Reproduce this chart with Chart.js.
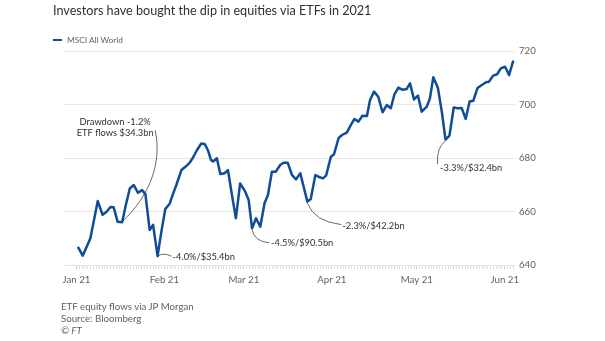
<!DOCTYPE html>
<html>
<head>
<meta charset="utf-8">
<script src="https://cdn.jsdelivr.net/npm/chart.js@4.4.1/dist/chart.umd.min.js"></script>
<style>
  body { margin: 0; background: #fff; font-family: Lato, sans-serif; }
  #wrap { position: relative; width: 605px; height: 341px; overflow: hidden; }
  #chart { position: absolute; left: 0; top: 0; }
  .title { position: absolute; left: 53px; top: 5.3px; font-size: 12.6px; line-height: 12.6px; color: #33302e; white-space: nowrap; }
  .legend { position: absolute; left: 53px; top: 36px; font-size: 8.3px; line-height: 8.5px; color: #66605c; white-space: nowrap; }
  .legend i { display: inline-block; width: 9px; height: 2.5px; background: #0f4d98; vertical-align: 2px; margin-right: 5px; }
  .source { position: absolute; left: 61px; top: 300px; font-size: 9.7px; line-height: 12.2px; color: #66605c; }
  .source em { font-style: italic; }
</style>
</head>
<body>
<div id="wrap">
  <canvas id="chart" width="605" height="341"></canvas>
  <div class="title">Investors have bought the dip in equities via ETFs in 2021</div>
  <div class="legend"><i></i>MSCI All World</div>
  <div class="source">ETF equity flows via JP Morgan<br>Source: Bloomberg<br><em>© FT</em></div>
</div>
<script>
// MSCI All World index, days counted from 1 Jan 2021
const days = [
  0.5, 2.2, 4.9, 7.5, 9.2, 10.6, 12.0, 13.1, 14.5, 16.1,
  17.4, 18.8, 20.2, 21.7, 23.1, 24.3, 25.8, 27.0, 28.6, 29.9,
  31.3, 32.9, 34.0, 35.2, 37.0, 38.4, 39.8, 41.0, 42.5, 44.0,
  45.2, 46.3, 47.4, 48.2, 49.5, 50.7, 52.2, 53.4, 54.8, 56.2,
  57.7, 59.5, 60.7, 61.9, 63.3, 64.8, 66.3, 67.5, 68.9, 70.3,
  71.8, 73.0, 74.5, 76.0, 77.4, 78.9, 80.1, 81.4, 82.6, 84.2,
  85.3, 86.9, 88.0, 89.7, 90.8, 92.4, 93.6, 95.3, 96.7, 98.0,
  99.4, 100.8, 102.4, 103.5, 104.9, 106.4, 107.9, 109.4, 110.8, 112.1,
  113.5, 115.0, 116.4, 117.6, 119.0, 120.4, 121.7, 123.5, 124.6, 125.8,
  127.4, 128.8, 130.1, 131.5, 133.0, 134.4, 135.8, 137.2, 138.6, 139.9,
  141.4, 142.9, 144.4, 145.4, 146.9, 148.3, 149.6, 151.1, 152.5, 154.0,
];
const msci = [
  646.8, 643.5, 650.0, 663.9, 658.8, 659.9, 661.7, 661.6, 656.2, 656.0,
  662.4, 668.6, 669.9, 667.0, 668.0, 666.5, 653.1, 655.0, 643.3, 652.3,
  660.9, 663.0, 666.5, 669.9, 675.5, 676.7, 678.1, 680.0, 683.0, 685.4,
  685.2, 683.0, 679.3, 678.7, 679.9, 674.0, 674.3, 675.5, 666.2, 657.5,
  670.5, 667.4, 664.3, 653.7, 657.5, 654.3, 663.1, 666.2, 674.9, 674.9,
  677.4, 678.2, 678.2, 673.6, 672.0, 674.3, 669.2, 663.7, 664.7, 673.6,
  673.0, 672.4, 673.4, 680.5, 681.4, 687.4, 688.6, 689.5, 692.3, 694.6,
  693.6, 695.8, 695.7, 701.7, 704.8, 702.9, 697.1, 699.8, 698.6, 703.8,
  706.3, 705.5, 705.8, 707.9, 701.9, 703.3, 697.3, 699.2, 702.3, 710.2,
  706.3, 697.3, 686.9, 688.4, 698.9, 698.6, 698.7, 694.6, 701.1, 701.4,
  706.2, 707.3, 708.3, 708.5, 710.8, 711.3, 713.5, 714.1, 711.0, 716.4,
];

const monthStarts = [0, 31, 59, 90, 120, 151];
const monthLabels = ['Jan 21', 'Feb 21', 'Mar 21', 'Apr 21', 'May 21', 'Jun 21'];
const yTicks = [640, 660, 680, 700, 720];

// drawdowns and ETF flows, pinned to the low of each dip
const calloutPoints = [9, 18, 43, 57, 92];
const calloutLabels = [
  ['Drawdown -1.2%', 'ETF flows $34.3bn'],
  ['-4.0%/$35.4bn'],
  ['-4.5%/$90.5bn'],
  ['-2.3%/$42.2bn'],
  ['-3.3%/$32.4bn'],
];

// leader curves and text offsets, in px from the anchor point
const leaders = [
  { path: [[33, -92], [40, -60], [28, -27], [0.5, -1]], text: [-7, -100.5], align: 'center' },
  { path: [[0.5, 0], [5, -4], [14, 0]], text: [15, 0.5], align: 'left' },
  { path: [[0, 1], [2, 13], [17, 14.5]], text: [19, 15], align: 'left' },
  { path: [[0, 1.5], [7, 20], [34, 23]], text: [35, 24], align: 'left' },
  { path: [[0, 1.5], [-9, 7.5], [-8, 24.5]], text: [-5.5, 28], align: 'left' },
];

const calloutPlugin = {
  id: 'callouts',
  afterDatasetsDraw(chart) {
    const { ctx, scales: { x, y } } = chart;
    ctx.save();
    ctx.strokeStyle = '#4a4542';
    ctx.lineWidth = 0.8;
    ctx.fillStyle = '#33302e';
    ctx.font = '9.3px Lato';
    ctx.textBaseline = 'middle';
    calloutPoints.forEach((idx, i) => {
      const px = x.getPixelForValue(days[idx]);
      const py = y.getPixelForValue(msci[idx]);
      const { path, text, align } = leaders[i];
      const p = path.map(([dx, dy]) => [px + dx, py + dy]);
      ctx.beginPath();
      ctx.moveTo(...p[0]);
      if (p.length === 4) ctx.bezierCurveTo(...p[1], ...p[2], ...p[3]);
      else ctx.quadraticCurveTo(...p[1], ...p[2]);
      ctx.stroke();
      ctx.textAlign = align;
      calloutLabels[i].forEach((line, j) => {
        ctx.fillText(line, px + text[0], py + text[1] + j * 11);
      });
    });
    ctx.restore();
  },
};

function draw() {
  // eslint-disable-next-line no-undef
  new Chart(document.getElementById('chart'), {
    type: 'line',
    data: {
      datasets: [{
        label: 'MSCI All World',
        data: days.map((d, i) => ({ x: d, y: msci[i] })),
        borderColor: '#0f4d98',
        borderWidth: 2.5,
        pointRadius: 0,
        tension: 0,
        borderJoinStyle: 'round',
      }],
    },
    options: {
      responsive: false,
      devicePixelRatio: 1,
      animation: false,
      layout: { padding: { left: 64, top: 51, right: 0, bottom: 0 } },
      plugins: {
        legend: { display: false },
        tooltip: { enabled: false },
      },
      scales: {
        x: {
          type: 'linear',
          min: -4.4,
          max: 154.6,
          afterBuildTicks: (scale) => {
            const ticks = [];
            for (let d = 0; d <= 154; d += 1) ticks.push({ value: d });
            scale.ticks = ticks;
          },
          afterFit: (scale) => { scale.height = 76; },
          ticks: {
            autoSkip: false,
            maxRotation: 0,
            padding: 5,
            color: '#66605c',
            font: { family: 'Lato', size: 9.7 },
            callback: (value) => {
              const m = monthStarts.indexOf(value);
              return m === -1 ? '' : monthLabels[m];
            },
          },
          grid: {
            drawOnChartArea: false,
            tickLength: 4,
            tickColor: (c) => (monthStarts.includes(c.tick && c.tick.value) ? '#cfc8c4' : '#e2dcd8'),
            tickWidth: 1,
          },
          border: { display: false },
        },
        y: {
          position: 'right',
          min: 640,
          max: 720,
          afterBuildTicks: (scale) => { scale.ticks = yTicks.map((v) => ({ value: v })); },
          afterFit: (scale) => { scale.width = 90; },
          ticks: {
            padding: 4,
            color: '#66605c',
            font: { family: 'Lato', size: 9.7 },
          },
          grid: {
            color: '#ece6e3',
            drawTicks: false,
          },
          border: { display: false },
        },
      },
    },
    plugins: [calloutPlugin],
  });
}

document.fonts.load('10px Lato').then(draw, draw);
</script>
</body>
</html>
